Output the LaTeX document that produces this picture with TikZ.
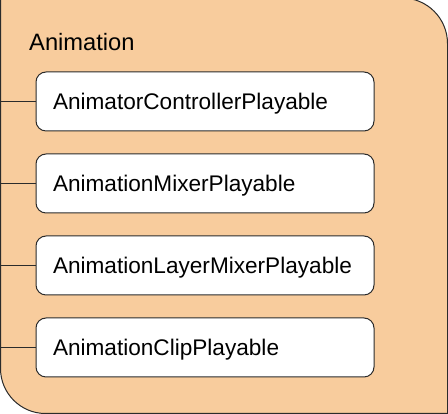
\documentclass[tikz,border=0pt]{standalone}
\usepackage{fontspec}
\setmainfont{Liberation Sans}
\definecolor{grpfill}{HTML}{F8CC9D}
\definecolor{edge}{HTML}{2B2B2B}
\tikzset{
  itembox/.style={draw=edge, line width=1pt, fill=white, rounded corners=10pt,
    text width=304pt, inner xsep=17pt, inner ysep=0pt, align=left,
    minimum height=59pt, text height=16.2pt, text depth=0pt,
    font=\fontsize{22.6}{27}\selectfont},
  link/.style={draw=edge, line width=1pt}
}
\begin{document}
\begin{tikzpicture}[x=1pt,y=1pt]
\useasboundingbox (0,0) rectangle (448,414);
\path[fill=grpfill, draw=edge, line width=1pt]
  (0.5,416) -- (402,416) arc[start angle=90, end angle=0, radius=45.5]
  -- (447.5,0.5) -- (45.5,0.5) arc[start angle=270, end angle=180, radius=45]
  -- cycle;
\node[anchor=base west, inner sep=0pt, font=\fontsize{23.7}{28}\selectfont] (title) at (29,363) {Animation};
\node[itembox] (b1) at (205,312.5) {AnimatorControllerPlayable};
\node[itembox] (b2) at (205,230.5) {AnimationMixerPlayable};
\node[itembox] (b3) at (205,148.5) {AnimationLayerMixerPlayable};
\node[itembox] (b4) at (205,66.5) {AnimationClipPlayable};
\coordinate (l1) at (0.5,312.5);
\coordinate (l2) at (0.5,230.5);
\coordinate (l3) at (0.5,148.5);
\coordinate (l4) at (0.5,66.5);
\draw[link] (l1) -- (b1.west);
\draw[link] (l2) -- (b2.west);
\draw[link] (l3) -- (b3.west);
\draw[link] (l4) -- (b4.west);
\end{tikzpicture}
\end{document}
